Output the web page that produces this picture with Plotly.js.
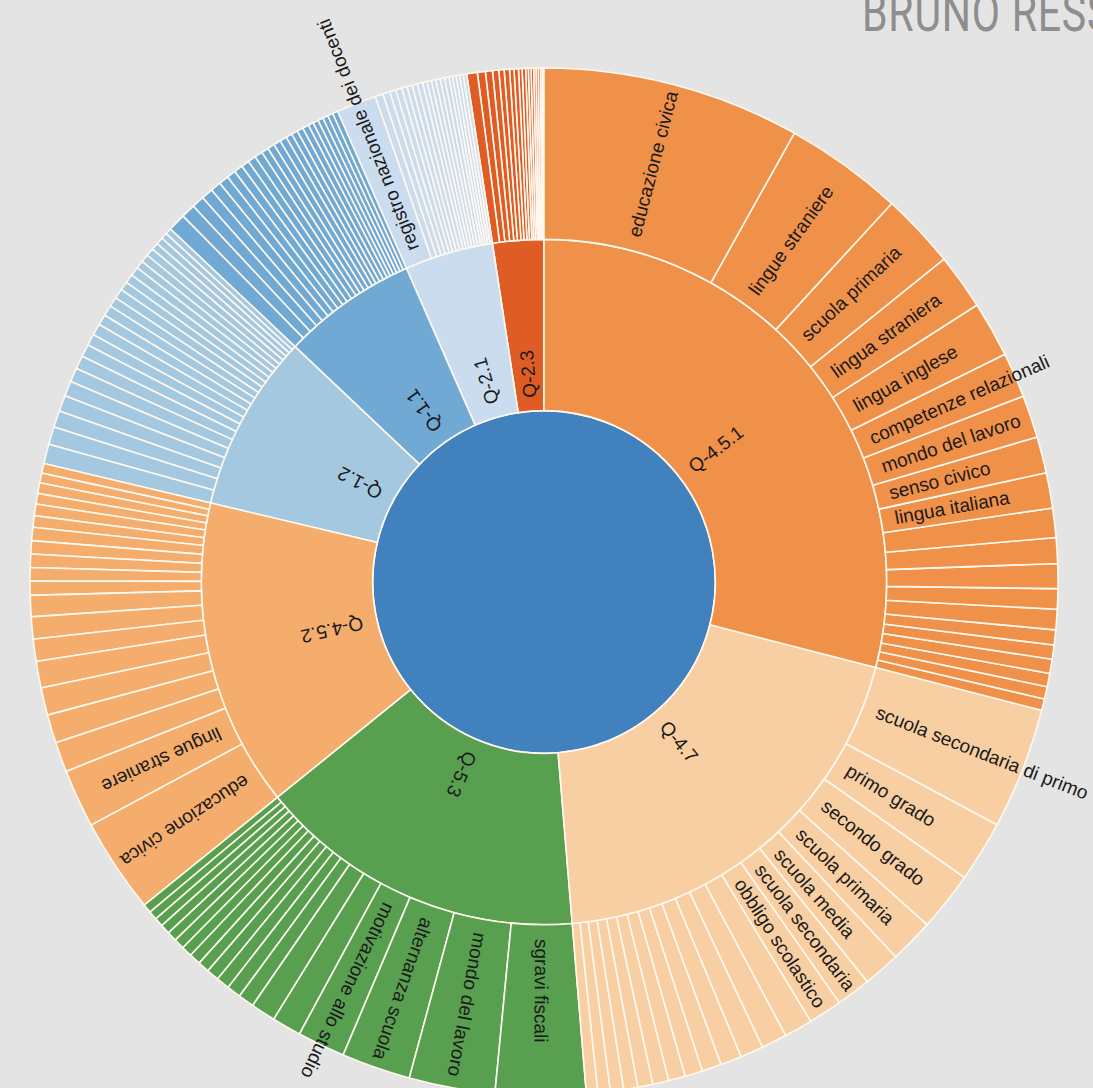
<!DOCTYPE html>
<html>
<head>
<meta charset="utf-8">
<script src="https://cdn.plot.ly/plotly-3.0.1.min.js"></script>
<style>
html,body{margin:0;padding:0;overflow:hidden;background:#e4e4e4;width:1093px;height:1088px;}
#chart{position:absolute;left:0;top:0;width:1093px;height:1164px;}
#brand{position:absolute;left:862px;top:-14px;font-family:Roboto,"Open Sans",sans-serif;font-weight:400;font-size:54px;line-height:54px;color:#8e8e8e;letter-spacing:1px;white-space:nowrap;transform:scaleX(0.76);transform-origin:0 0;}
</style>
</head>
<body>
<div id="chart"></div>
<div id="brand">BRUNO RESS</div>
<script>
// ---------------- DATA (clockwise order, values = share of circle) ----------------
const categories = ["Q-4.5.1", "Q-4.7", "Q-5.3", "Q-4.5.2", "Q-1.2", "Q-1.1", "Q-2.1", "Q-2.3"];
const categoryColors = ["#f09149", "#f7cfa3", "#589f50", "#f4ad6c", "#a5c8e1", "#71a9d5", "#cbdcef", "#df5c25"];
const rootColor = "#4181bd";

const q451Labels = ["educazione civica", "lingue straniere", "scuola primaria", "lingua straniera", "lingua inglese",
  "competenze relazionali", "mondo del lavoro", "senso civico", "lingua italiana",
  "", "", "", "", "", "", "", "", "", "", ""];
const q451Values = [29.1, 13.4, 8.5, 6.3, 6.3, 5.1, 4.8, 4.1, 4.0,
  3.3, 2.9, 2.8, 2.3, 2.3, 1.7, 1.6, 1.6, 1.5, 1.4, 1.3];

const q47Labels = ["scuola secondaria di primo", "primo grado", "secondo grado", "scuola primaria", "scuola media",
  "scuola secondaria", "obbligo scolastico",
  "", "", "", "", "", "", "", "", "", "", "", "", ""];
const q47Values = [13.7, 6.9, 6.7, 5.0, 4.2, 3.9, 3.8,
  3.2, 2.9, 2.6, 2.4, 2.2, 2.0, 1.9, 1.8, 1.7, 1.6, 1.5, 1.4, 1.3];

const q53Labels = ["sgravi fiscali", "mondo del lavoro", "alternanza scuola", "motivazione allo studio",
  "", "", "", "", "", "", "", "", "", "", "", "", "", "", ""];
const q53Values = [10.2, 9.7, 7.8, 5.4, 3.3, 2.8,
  1.8, 1.6, 1.5, 1.4, 1.3, 1.3, 1.2, 1.2, 1.1, 1.1, 1.0, 1.0, 1.0];

const q452Labels = ["educazione civica", "lingue straniere",
  "", "", "", "", "", "", "", "", "", "", "", "", "", "", "", "", "", ""];
const q452Values = [10.7, 6.6, 3.4, 3.2, 3.1, 3.0, 2.5, 2.5, 2.4, 1.6,
  1.5, 1.5, 1.5, 1.5, 1.3, 1.3, 1.2, 1.2, 1.1, 1.1];

const q12Labels = ["", "", "", "", "", "", "", "", "", "", "", "", "", "", "", "", "", "", "", "", "", "", "", ""];
const q12Values = [2.2, 2.0, 1.9, 1.8, 1.7, 1.6, 1.5, 1.4, 1.3, 1.3, 1.2, 1.2,
  1.1, 1.1, 1.0, 1.0, 1.0, 0.9, 0.9, 0.9, 0.8, 0.8, 0.7, 0.7];

const q11Labels = ["", "", "", "", "", "", "", "", "", "", "", "", "", "", "", "", "", "", "", "", "", "", "", "", ""];
const q11Values = [2.0, 1.6, 1.4, 1.3, 1.2, 1.1, 1.0, 1.0, 0.9, 0.9, 0.9, 0.8, 0.8,
  0.8, 0.8, 0.7, 0.7, 0.7, 0.7, 0.6, 0.6, 0.6, 0.6, 0.6, 0.6];

const q21Labels = ["registro nazionale dei docenti",
  "", "", "", "", "", "", "", "", "", "", "", "", "", "", "", "", "", "", ""];
const q21Values = [4.5, 0.9, 0.8, 0.7, 0.7, 0.6, 0.6, 0.6, 0.6, 0.5,
  0.5, 0.5, 0.5, 0.5, 0.5, 0.4, 0.4, 0.4, 0.4, 0.4];

const q23Labels = ["", "", "", "", "", "", "", "", "", "", "", "", "", "", "", "", "", ""];
const q23Values = [1.2, 0.9, 0.8, 0.7, 0.6, 0.6, 0.5, 0.5, 0.4, 0.4,
  0.3, 0.3, 0.3, 0.25, 0.25, 0.25, 0.2, 0.2];

const leafLabels = [q451Labels, q47Labels, q53Labels, q452Labels, q12Labels, q11Labels, q21Labels, q23Labels];
const leafValues = [q451Values, q47Values, q53Values, q452Values, q12Values, q11Values, q21Values, q23Values];

// ---------------- GEOMETRY ----------------
const W = 1093, H = 1164;
const CX = 544, CY = 582, R = 514;
const domainX = [(CX - R) / W, (CX + R) / W];
const ringW = R / 3;
const LABEL_FONT = "Liberation Sans, Arial, sans-serif";
const LABEL_SIZE = 19;
const PAD = 14;

// ---------------- BUILD TRACE ----------------
// Plotly lays sectors out counterclockwise, so feed the order reversed
const ids = ["root"], labels = [""], parents = [""], values = [0], colors = [rootColor];
for (let c = categories.length - 1; c >= 0; c--) {
  ids.push(categories[c]); labels.push(categories[c]); parents.push("root"); values.push(0); colors.push(categoryColors[c]);
  for (let i = leafValues[c].length - 1; i >= 0; i--) {
    ids.push(categories[c] + "/" + i);
    labels.push(leafLabels[c][i]);
    parents.push(categories[c]);
    values.push(leafValues[c][i]);
    colors.push(categoryColors[c]);
  }
}

const trace = {
  type: "sunburst",
  ids: ids, labels: labels, parents: parents, values: values,
  branchvalues: "remainder",
  sort: false,
  rotation: 90,
  textinfo: "none",
  hoverinfo: "none",
  marker: {colors: colors, line: {color: "#fff8ef", width: 1.6}},
  leaf: {opacity: 1},
  domain: {x: domainX, y: [0, 1]}
};

// ---------------- LABELS (radial, reading outward, as in the original) ----------------
const ctx = document.createElement("canvas").getContext("2d");
ctx.font = LABEL_SIZE + "px " + LABEL_FONT;
const total = leafValues.reduce((s, a) => s + a.reduce((t, v) => t + v, 0), 0);
const annotations = [];
function addLabel(text, a0, a1, r0) {
  if (!text) return;
  const mid = (a0 + a1) / 2;
  const rad = mid * Math.PI / 180;
  const w = ctx.measureText(text).width;
  const rc = r0 + PAD + w / 2;
  const px = CX + rc * Math.sin(rad), py = CY - rc * Math.cos(rad);
  annotations.push({
    xref: "paper", yref: "paper", x: px / W, y: 1 - py / H,
    text: text, showarrow: false, xanchor: "center", yanchor: "middle",
    textangle: mid - 90,
    font: {family: LABEL_FONT, size: LABEL_SIZE, color: "#1a1a1a"}
  });
}
let acc = 0;
categories.forEach((cat, c) => {
  const catStart = acc;
  leafValues[c].forEach((v, i) => {
    const a0 = acc / total * 360, a1 = (acc + v) / total * 360;
    addLabel(leafLabels[c][i], a0, a1, 2 * ringW);
    acc += v;
  });
  addLabel(cat, catStart / total * 360, acc / total * 360, ringW);
});

const layout = {
  width: W, height: H,
  margin: {l: 0, r: 0, t: 0, b: 0},
  paper_bgcolor: "#e4e4e4",
  showlegend: false,
  annotations: annotations
};

Plotly.newPlot("chart", [trace], layout, {displayModeBar: false, staticPlot: true});
</script>
</body>
</html>
